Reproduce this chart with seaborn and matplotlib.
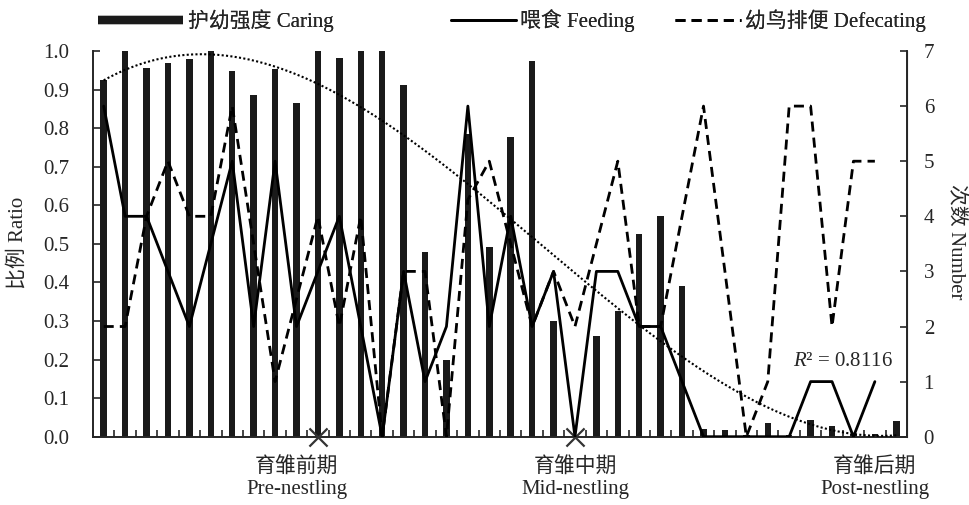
import numpy as np
import pandas as pd
import matplotlib
matplotlib.use("Agg")
import matplotlib.pyplot as plt
from matplotlib.lines import Line2D
import seaborn as sns

day = list(range(38))
caring = [0.925, 1.0, 0.957, 0.970, 0.978, 1.0, 0.948, 0.886, 0.954, 0.864,
          1.0, 0.981, 1.0, 1.0, 0.911, 0.478, 0.199, 0.785, 0.492, 0.778,
          0.974, 0.300, 0.0, 0.260, 0.327, 0.526, 0.573, 0.391, 0.019, 0.017,
          0.005, 0.036, 0.004, 0.043, 0.027, 0.008, 0.006, 0.042]
feeding = [6, 4, 4, 3, 2, 3.5, 5, 2, 5, 2, 3, 4, 2, 0, 3, 1, 2, 6, 2, 4,
           2, 3, 0, 3, 3, 2, 2, 1, 0, 0, 0, 0, 0, 1, 1, 0, 1, np.nan]
defecating = [2, 2, 4, 5, 4, 4, 6, 3.5, 1, 2.5, 4, 2, 4, 0, 3, 3, 0, 4.3, 5, 3.5,
              2, 3, 2, 3.5, 5, 2, 2, 4, 6, 3, 0, 1, 6, 6, 2, 5, 5, np.nan]
stage_pos = [9, 22, 36]
stage_labels = ["育雏前期\nPre-nestling", "育雏中期\nMid-nestling", "育雏后期\nPost-nestling"]
stage_marks = [10, 22]
r2_text = "0.8116"

df = pd.DataFrame({"day": day, "caring": caring,
                   "feeding": feeding, "defecating": defecating})

sns.set_style("ticks")
plt.rcParams["font.family"] = ["Liberation Serif", "Noto Sans CJK SC"]
plt.rcParams["font.size"] = 15
plt.rcParams["mathtext.fontset"] = "custom"
plt.rcParams["mathtext.it"] = "Liberation Serif:italic"
plt.rcParams["mathtext.rm"] = "Liberation Serif"

fig = plt.figure(figsize=(9.69, 5.05), dpi=100)
ax = fig.add_axes([93 / 969, 68.3 / 505, 814 / 969, 385.7 / 505])

sns.barplot(data=df, x="day", y="caring", ax=ax, color="#1a1a1a",
            saturation=1, width=0.3, linewidth=0, zorder=2)

# cubic trend of the caring ratio
coef = np.polyfit(df["day"], df["caring"], 3)
xs = np.linspace(0, 37, 300)
sns.lineplot(x=xs, y=np.polyval(coef, xs), ax=ax, color="black",
             linewidth=1.5, linestyle=(0, (1, 1.1)), zorder=3)

sns.scatterplot(x=stage_marks, y=[0] * len(stage_marks), ax=ax, marker="x",
                s=170, color="#333333", linewidth=1.6, clip_on=False, zorder=5)

ax.set_ylim(0, 1)
ax.set_xlim(-0.5, 37.5)
ax.set_yticks(np.arange(0, 1.01, 0.1))
ax.set_yticklabels([f"{v:.1f}" for v in np.arange(0, 1.01, 0.1)])
ax.set_xticks(stage_pos)
ax.set_xticklabels(stage_labels, linespacing=1.2)
ax.set_xticks(np.arange(-0.5, 38, 1), minor=True)
ax.tick_params(axis="x", which="major", length=0, pad=15)
ax.tick_params(axis="x", which="minor", direction="in", length=5, width=1.2)
ax.tick_params(axis="y", direction="in", length=5, width=1.2, pad=17)
ax.set_xlabel("")
ax.set_ylabel("")
ax.spines["top"].set_visible(False)
for s in ["left", "bottom"]:
    ax.spines[s].set_linewidth(1.4)

ax2 = ax.twinx()
sns.lineplot(data=df, x="day", y="feeding", ax=ax2, color="black",
             linewidth=2.0, zorder=4)
sns.lineplot(data=df, x="day", y="defecating", ax=ax2, color="black",
             linewidth=2.0, linestyle=(0, (3.6, 2.2)), zorder=4)
ax2.set_ylim(0, 7)
ax2.set_yticks(range(8))
ax2.tick_params(axis="y", direction="in", length=5, width=1.2, pad=12)
ax2.set_ylabel("")
ax2.spines["top"].set_visible(False)
ax2.spines["left"].set_visible(False)
ax2.spines["bottom"].set_visible(False)
ax2.spines["right"].set_linewidth(1.4)

ax.text(0.921, 0.194, "$R$² = " + r2_text, transform=ax.transAxes,
        ha="center", va="center", fontsize=15)

fig.text(18 / 969, 1 - 243 / 505, "比例 Ratio", rotation=90,
         ha="center", va="center", fontsize=15)
fig.text(955 / 969, 1 - 242 / 505, "次数 Number", rotation=270,
         ha="center", va="center", fontsize=15)

# three legend entries placed separately, as in the original layout
entries = [
    (Line2D([], [], color="#1a1a1a", linewidth=6, solid_capstyle="butt"),
     "护幼强度 Caring", 98, 4.1),
    (Line2D([], [], color="black", linewidth=2.0),
     "喂食 Feeding", 451, 3.1),
    (Line2D([], [], color="black", linewidth=2.0, linestyle=(0, (3.6, 2.2))),
     "幼鸟排便 Defecating", 675, 3.15),
]
for handle, label, x0, hl in entries:
    leg = fig.legend([handle], [label], loc="center left",
                     bbox_to_anchor=(x0 / 969, 1 - 21 / 505), frameon=False,
                     borderpad=0, borderaxespad=0, handlelength=hl,
                     handletextpad=0.2, fontsize=15)
    fig.add_artist(leg)

fig.savefig("out.png", dpi=100)
